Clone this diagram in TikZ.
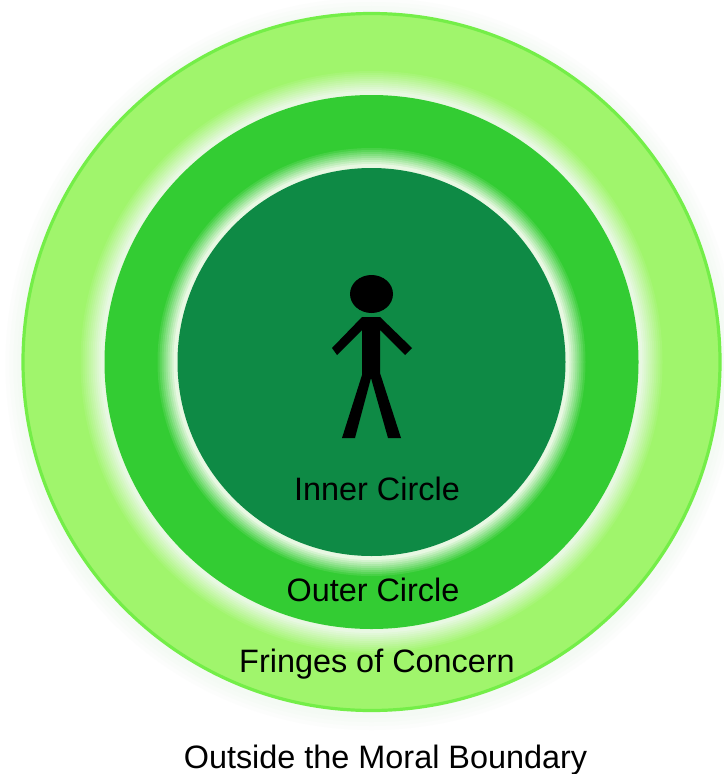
\documentclass[tikz,border=0pt]{standalone}
\usepackage{fontspec}
\setmainfont{Liberation Sans}
\usepackage{xcolor}
\usetikzlibrary{positioning}
\definecolor{fringegreen}{HTML}{A0F56C}
\definecolor{fringeedge}{HTML}{74EE48}
\definecolor{outergreen}{HTML}{33CC33}
\definecolor{innergreen}{HTML}{0E8A45}
\definecolor{haloblur}{HTML}{F4FAF4}
\definecolor{halowhite}{HTML}{E8F8E2}
\tikzset{
	lbl/.style={font=\fontsize{24.3}{28}\selectfont, text=black, inner sep=0pt},
}

\begin{document}
\begin{tikzpicture}[x=.75pt,y=-.75pt]
	\useasboundingbox (0,0) rectangle (724,774);
	\fill[white] (0,0) rectangle (724,774);
	% faint blur outside the outer ring
	\foreach \r/\m in {366/30,362/55,358/80,354/100}
		\fill[haloblur!\m!white] (371.5,364) circle [radius=\r];
	\draw[fill=fringegreen,draw=fringeedge,line width=2.4pt] (371.5,362) circle [radius=348.5];
	% white halo round the outer circle
	\foreach \i in {0,...,12} {
		\pgfmathsetmacro{\r}{293-2*\i}
		\pgfmathsetmacro{\m}{100-\i*100/11}
		\pgfmathsetmacro{\m}{max(\m,0)}
		\fill[fringegreen!\m!halowhite] (371.5,362) circle [radius=\r];
	}
	\fill[outergreen] (371.5,362) circle [radius=267];
	% white halo round the inner circle
	\foreach \i in {0,...,10} {
		\pgfmathsetmacro{\r}{216-2*\i}
		\pgfmathsetmacro{\m}{100-\i*100/9}
		\pgfmathsetmacro{\m}{max(\m,0)}
		\fill[outergreen!\m!halowhite] (371.5,362) circle [radius=\r];
	}
	\fill[innergreen] (371.5,362) circle [radius=194];
	% the figure
	\fill[black] (371.5,294) ellipse [x radius=21.5, y radius=19];
	\fill[black] (362,317) -- (380,317) -- (412,348) -- (405,355) -- (380,330) -- (380,373)
		-- (401,438) -- (388,438) -- (371,378) -- (355,438) -- (342,438) -- (362,375)
		-- (362,330) -- (337,355) -- (332,348) -- cycle;
	\node[lbl] (inner) at (377,489) {Inner Circle};
	\node[lbl] (outer) at (373,590) {Outer Circle};
	\node[lbl] (fringes) at (377,664) {Fringes of Concern};
	\node[lbl] (moral) at (385.5,760) {Outside the Moral Boundary};
\end{tikzpicture}
\end{document}
